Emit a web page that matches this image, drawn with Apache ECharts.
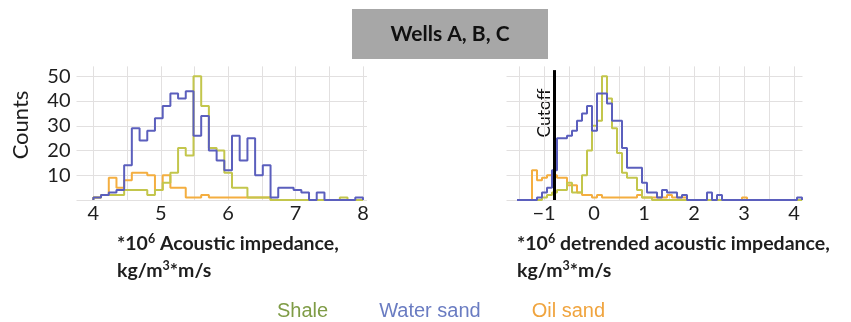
<!DOCTYPE html>
<html>
<head>
<meta charset="utf-8">
<script src="https://cdn.jsdelivr.net/npm/echarts@6/dist/echarts.min.js"></script>
<style>
  html, body { margin: 0; padding: 0; background: #ffffff; }
  #chart { width: 851px; height: 322px; }
</style>
</head>
<body>
<div id="chart"></div>
<script>
// Histogram bin edges and counts: acoustic impedance (x 10^6 kg/m3*m/s)
const impedanceEdges = [4.000, 4.114, 4.229, 4.343, 4.457, 4.571, 4.686, 4.800, 4.914, 5.029,
  5.143, 5.257, 5.371, 5.486, 5.600, 5.714, 5.829, 5.943, 6.057, 6.171,
  6.286, 6.400, 6.514, 6.629, 6.743, 6.857, 6.971, 7.086, 7.200, 7.314,
  7.429, 7.543, 7.657, 7.771, 7.886, 8.000];
const shaleImpedance = [1, 2, 2, 2, 4, 4, 4, 2, 4, 7, 11, 21, 18, 50, 38, 21, 20, 11, 5, 5,
  1, 1, 1, 0, 0, 0, 0, 0, 0, 0, 0, 0, 1, 0, 0];
const waterImpedance = [1, 2, 3, 4, 14, 29, 24, 28, 33, 38, 43, 41, 44, 26, 34, 20, 16, 12, 26, 16,
  25, 10, 14, 1, 5, 5, 4, 3, 0, 3, 0, 0, 0, 0, 1];
const oilImpedance = [1, 2, 9, 5, 8, 11, 11, 10, 4, 10, 5, 5, 1, 1, 2, 1, 1, 1, 1, 1,
  1, 1, 1, 0, 0, 0, 0, 0, 0, 0, 0, 0, 0, 0, 0];

// Histogram bin edges and counts: detrended acoustic impedance
const detrendedEdges = [-1.54, -1.44, -1.34, -1.24, -1.14, -1.04, -0.94, -0.84, -0.74, -0.64,
  -0.54, -0.44, -0.34, -0.24, -0.14, -0.04, 0.06, 0.16, 0.26, 0.36,
  0.46, 0.56, 0.66, 0.76, 0.86, 0.96, 1.06, 1.16, 1.26, 1.36,
  1.46, 1.56, 1.66, 1.76, 1.86, 1.96, 2.06, 2.16, 2.26, 2.36,
  2.46, 2.56, 2.66, 2.76, 2.86, 2.96, 3.06, 3.16, 3.26, 3.36,
  3.46, 3.56, 3.66, 3.76, 3.86, 3.96, 4.06, 4.16];
const shaleDetrended = [0, 0, 0, 0, 0, 1, 2, 3, 4, 4, 7, 3, 3, 10, 20, 30, 32, 50, 41, 29,
  19, 11, 9, 9, 4, 1, 1, 0, 0, 0, 0, 0, 0, 0, 0, 0, 0, 0, 0, 0,
  0, 0, 0, 0, 0, 0, 0, 0, 0, 0, 0, 0, 0, 0, 0, 0, 0];
const waterDetrended = [0, 0, 0, 0, 1, 3, 5, 12, 25, 25, 26, 28, 32, 35, 38, 28, 43, 43, 39, 32,
  32, 21, 13, 13, 13, 7, 3, 3, 1, 4, 3, 3, 1, 2, 0, 0, 0, 0, 3, 0,
  2, 0, 0, 0, 0, 0, 0, 0, 0, 0, 0, 0, 0, 0, 0, 0, 1];
const oilDetrended = [0, 0, 0, 12, 8, 9, 10, 10, 9, 9, 6, 6, 3, 2, 2, 1, 2, 1, 1, 1,
  1, 1, 1, 1, 2, 1, 1, 1, 1, 1, 2, 1, 1, 1, 0, 0, 0, 0, 0, 0,
  0, 0, 0, 0, 0, 1, 0, 0, 0, 0, 0, 0, 0, 0, 0, 0, 0];

const cutoffValue = -0.8;
const legendNames = ['Shale', 'Water sand', 'Oil sand'];
const lineColors = { 'Shale': '#c3c64c', 'Water sand': '#5b5fbd', 'Oil sand': '#f4ae40' };
const legendColors = { 'Shale': '#7f9c46', 'Water sand': '#6a7cc2', 'Oil sand': '#f0a43e' };

// Outline of a histogram as a stepped polyline through the bin edges
function stepOutline(edges, counts) {
  const pts = [[edges[0], 0]];
  counts.forEach((c, i) => pts.push([edges[i], c]));
  const last = edges[edges.length - 1];
  pts.push([last, counts[counts.length - 1]]);
  pts.push([last, 0]);
  return pts;
}

const GRID_COLOR = '#e2e0e0';
const TEXT_FONT = 'Lato, "Noto Sans", sans-serif';
const TEXT_COLOR = '#1e1e1e';

// Rich-text styles for the axis captions (with raised exponents)
const captionRich = {
  b: { fontFamily: TEXT_FONT, fontWeight: 'bold', fontSize: 19.5, lineHeight: 24, fill: TEXT_COLOR, color: TEXT_COLOR },
  s: { fontFamily: TEXT_FONT, fontWeight: 'bold', fontSize: 12.5, verticalAlign: 'top', fill: TEXT_COLOR, color: TEXT_COLOR }
};

function histSeries(name, axisIndex, edges, counts, extra) {
  return Object.assign({
    name: name,
    type: 'line',
    xAxisIndex: axisIndex,
    yAxisIndex: axisIndex,
    step: 'end',
    showSymbol: false,
    symbol: 'none',
    silent: true,
    animation: false,
    lineStyle: { color: lineColors[name], width: 2 },
    itemStyle: { color: lineColors[name] },
    emphasis: { disabled: true },
    data: stepOutline(edges, counts)
  }, extra || {});
}

function xAxisFor(index, min, max, first, lastLabel) {
  return {
    type: 'value',
    gridIndex: index,
    min: min,
    max: max,
    interval: 0.25,
    axisLine: { show: false },
    axisTick: { show: false },
    axisLabel: {
      margin: 4,
      color: TEXT_COLOR,
      fontFamily: TEXT_FONT,
      fontSize: 20,
      showMinLabel: true,
      showMaxLabel: true,
      formatter: function (v) {
        const r = Math.round(v);
        if (Math.abs(v - r) > 1e-6 || r < first || r > lastLabel) return '';
        return r < 0 ? '\u2212' + Math.abs(r) : String(r);
      }
    },
    splitLine: { show: true, lineStyle: { color: ['rgba(0,0,0,0)', GRID_COLOR], width: 1 } }
  };
}

function yAxisFor(index, showLabels) {
  return {
    type: 'value',
    gridIndex: index,
    min: 0,
    max: 54,
    interval: 10,
    axisLine: { show: false },
    axisTick: { show: false },
    axisLabel: {
      show: showLabels,
      margin: 6,
      color: TEXT_COLOR,
      fontFamily: TEXT_FONT,
      fontSize: 20,
      formatter: function (v) { return (v > 0 && v % 10 === 0) ? String(v) : ''; }
    },
    splitLine: {
      show: true,
      lineStyle: { color: [GRID_COLOR, GRID_COLOR, GRID_COLOR, GRID_COLOR, GRID_COLOR, GRID_COLOR, 'rgba(0,0,0,0)'] }
    }
  };
}

function caption(x, y, text) {
  return {
    type: 'text', x: x, y: y, silent: true,
    style: { text: text, rich: captionRich, textAlign: 'left', textVerticalAlign: 'middle' }
  };
}

const chart = echarts.init(document.getElementById('chart'), null, { renderer: 'canvas' });

const option = {
  animation: false,
  backgroundColor: '#ffffff',
  grid: [
    { left: 76.5, right: 484, top: 66.4, bottom: 122 },
    { left: 506.5, right: 48.5, top: 66.4, bottom: 122 }
  ],
  xAxis: [
    xAxisFor(0, 3.75, 8.06, 4, 8),
    xAxisFor(1, -1.75, 4.17, -1, 4)
  ],
  yAxis: [
    yAxisFor(0, true),
    yAxisFor(1, false)
  ],
  legend: {
    data: legendNames.map(n => ({ name: n, textStyle: { color: legendColors[n] } })),
    icon: 'none',
    itemWidth: 0,
    itemHeight: 12,
    itemGap: 46,
    left: 267,
    top: 296,
    selectedMode: false,
    textStyle: { fontFamily: '"Liberation Sans", Arial, sans-serif', fontSize: 20, padding: 0 }
  },
  graphic: [
    { type: 'rect', left: 352, top: 9, shape: { width: 196, height: 50 }, style: { fill: '#a7a7a7' }, silent: true },
    { type: 'text', x: 450, y: 34, silent: true,
      style: { text: 'Wells A, B, C', font: 'bold 21px ' + TEXT_FONT, fill: '#111111', textAlign: 'center', textVerticalAlign: 'middle' } },
    { type: 'text', x: 21, y: 125, rotation: Math.PI / 2, silent: true,
      style: { text: 'Counts', font: '22px ' + TEXT_FONT, fill: TEXT_COLOR, textAlign: 'center', textVerticalAlign: 'middle' } },
    { type: 'text', x: 544, y: 113, rotation: Math.PI / 2, silent: true,
      style: { text: 'Cutoff', font: '17.5px ' + TEXT_FONT, fill: '#111111', textAlign: 'center', textVerticalAlign: 'middle' } },
    caption(117, 244, '{b|*10}{s|6}{b| Acoustic impedance,}'),
    caption(117, 271, '{b|kg/m}{s|3}{b|*m/s}'),
    caption(517, 244, '{b|*10}{s|6}{b| detrended acoustic impedance,}'),
    caption(517, 271, '{b|kg/m}{s|3}{b|*m/s}')
  ],
  series: [
    histSeries('Oil sand', 0, impedanceEdges, oilImpedance),
    histSeries('Shale', 0, impedanceEdges, shaleImpedance),
    histSeries('Water sand', 0, impedanceEdges, waterImpedance),
    histSeries('Oil sand', 1, detrendedEdges, oilDetrended),
    histSeries('Shale', 1, detrendedEdges, shaleDetrended),
    histSeries('Water sand', 1, detrendedEdges, waterDetrended, {
      markLine: {
        silent: true,
        symbol: 'none',
        animation: false,
        label: { show: false },
        emphasis: { disabled: true },
        lineStyle: { color: '#000000', width: 3, type: 'solid' },
        data: [[{ coord: [cutoffValue, 0] }, { coord: [cutoffValue, 52.5] }]]
      }
    })
  ]
};

chart.setOption(option);
</script>
</body>
</html>
